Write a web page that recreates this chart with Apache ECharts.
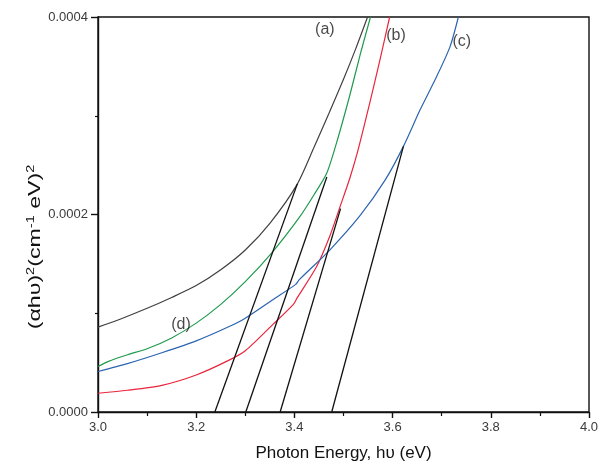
<!DOCTYPE html>
<html><head><meta charset="utf-8">
<script src="https://cdn.jsdelivr.net/npm/echarts@6/dist/echarts.min.js"></script>
<style>html,body{margin:0;padding:0;background:#fff}#c{width:606px;height:470px}</style>
</head><body><div id="c"></div>
<script>
// Curve data [photon energy (eV), (αhυ)^2]
const curveA = [[3.0,8.6e-5],[3.05,9.5e-5],[3.1,1.05e-4],[3.15,1.16e-4],[3.2,1.28e-4],[3.25,1.44e-4],[3.3,1.64e-4],[3.35,1.91e-4],[3.405,2.30e-4],[3.44,2.68e-4],[3.47,3.02e-4],[3.5,3.37e-4],[3.525,3.68e-4],[3.549,4.0e-4]];
const curveGreen = [[3.0,4.6e-5],[3.02,5.1e-5],[3.06,5.8e-5],[3.1,6.4e-5],[3.15,7.5e-5],[3.2,9.0e-5],[3.25,1.09e-4],[3.3,1.32e-4],[3.357,1.63e-4],[3.41,1.97e-4],[3.44,2.2e-4],[3.466,2.42e-4],[3.489,2.78e-4],[3.513,3.21e-4],[3.534,3.62e-4],[3.555,4.0e-4]];
const curveRed = [[3.0,1.9e-5],[3.06,2.2e-5],[3.13,2.7e-5],[3.2,3.75e-5],[3.265,5.2e-5],[3.3,6.2e-5],[3.357,8.9e-5],[3.398,1.09e-4],[3.405,1.15e-4],[3.445,1.47e-4],[3.472,1.78e-4],[3.493,2.08e-4],[3.513,2.37e-4],[3.53,2.66e-4],[3.554,3.14e-4],[3.574,3.56e-4],[3.594,4.0e-4]];
const curveBlue = [[3.0,4.1e-5],[3.06,4.9e-5],[3.13,6.0e-5],[3.2,7.2e-5],[3.265,8.6e-5],[3.3,9.5e-5],[3.357,1.14e-4],[3.402,1.29e-4],[3.41,1.34e-4],[3.472,1.64e-4],[3.534,1.99e-4],[3.585,2.35e-4],[3.622,2.69e-4],[3.656,3.06e-4],[3.69,3.4e-4],[3.717,3.7e-4],[3.734,4.0e-4]];
// Extrapolated tangent lines
const tangent1 = [[3.238,0],[3.406,2.31e-4]];
const tangent2 = [[3.301,0],[3.466,2.38e-4]];
const tangent3 = [[3.371,0],[3.494,2.06e-4]];
const tangent4 = [[3.476,0],[3.622,2.69e-4]];
// Curve labels [text, x, y]
const curveLabels = [['(a)',3.462,3.87e-4],['(b)',3.607,3.81e-4],['(c)',3.741,3.75e-4],['(d)',3.169,8.9e-5]];
const xTicks = {min:3.0, max:4.0, interval:0.2};
const yTicks = {min:0, max:0.0004, interval:0.0002};

const FONT = '"Liberation Sans", Arial, sans-serif';
const chart = echarts.init(document.getElementById('c'), null, {renderer:'canvas'});
function line(data, color, w){
  return {type:'line', data, showSymbol:false, symbol:'none', smooth:0.25,
    lineStyle:{color, width:w}, clip:true, silent:true, z:3};
}
function tline(data){
  return {type:'line', data, showSymbol:false, symbol:'none', silent:true, lineStyle:{color:'#111',width:1.3}, z:4};
}
chart.setOption({
  animation:false,
  backgroundColor:'#fff',
  grid:{left:98, right:17, top:17, bottom:58, show:true, borderColor:'#111', borderWidth:1.4, backgroundColor:'transparent'},
  xAxis:{type:'value', min:xTicks.min, max:xTicks.max, interval:xTicks.interval,
    name:'Photon Energy, hυ (eV)', nameLocation:'middle', nameGap:33,
    nameTextStyle:{fontFamily:FONT, fontSize:17, color:'#111'},
    axisLine:{lineStyle:{color:'#111', width:1.4}},
    axisTick:{show:true, length:6, lineStyle:{color:'#111', width:1.4}},
    minorTick:{show:true, splitNumber:2, length:4, lineStyle:{color:'#111', width:1.2}},
    splitLine:{show:false},
    axisLabel:{fontFamily:FONT, fontSize:13, color:'#3a3a3a', margin:9, formatter:v=>v.toFixed(1)}},
  yAxis:{type:'value', min:yTicks.min, max:yTicks.max, interval:yTicks.interval,
    axisLine:{show:true, lineStyle:{color:'#111', width:1.4}},
    axisTick:{show:true, length:7, lineStyle:{color:'#111', width:1.4}},
    minorTick:{show:true, splitNumber:2, length:3, lineStyle:{color:'#111', width:1.2}},
    splitLine:{show:false},
    axisLabel:{fontFamily:FONT, fontSize:13, color:'#3a3a3a', margin:10, formatter:v=>v.toFixed(4)}},
  graphic:[{type:'text', x:36, y:247, rotation:Math.PI/2, scaleX:1.45, scaleY:1,
    style:{text:'(αhυ){s|2}(cm{s|-1} eV){s|2}', fontFamily:FONT, fontSize:16, fill:'#111',
      align:'center', verticalAlign:'middle', lineHeight:19,
      rich:{s:{fontFamily:FONT, fontSize:10, fill:'#111', verticalAlign:'top', lineHeight:11}}}}],
  series:[
    line(curveA, '#404040', 1.2),
    line(curveGreen, '#1f9a4e', 1.2),
    line(curveRed, '#e8253c', 1.2),
    line(curveBlue, '#2b64b0', 1.2),
    tline(tangent1), tline(tangent2), tline(tangent3), tline(tangent4),
    {type:'scatter', data:curveLabels.map(l=>({value:[l[1],l[2]], name:l[0]})), symbolSize:0, silent:true,
      label:{show:true, position:'inside', formatter:p=>p.name, fontFamily:FONT, fontSize:16, color:'#1a1a1a'}, z:5}
  ]
});
</script></body></html>
